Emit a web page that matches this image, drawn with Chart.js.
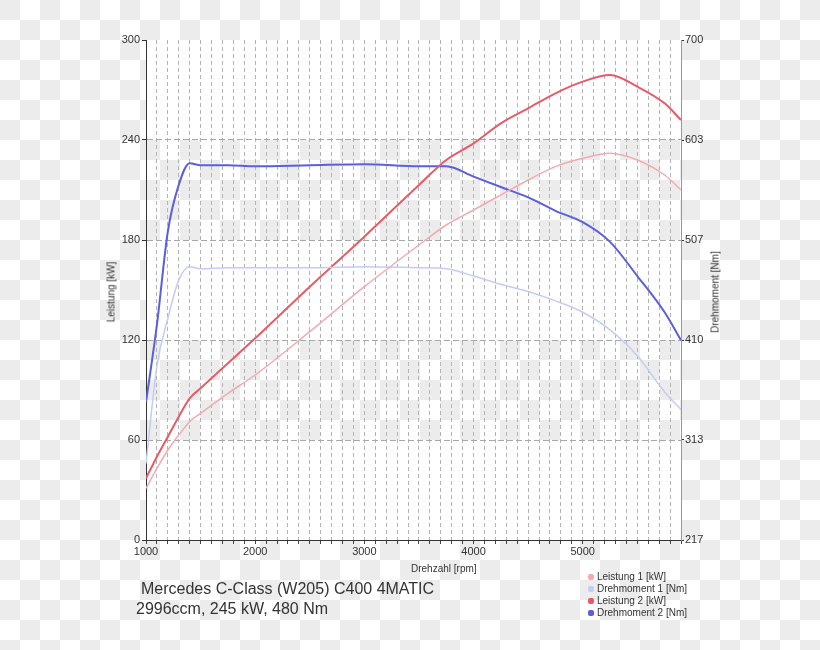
<!DOCTYPE html>
<html>
<head>
<meta charset="utf-8">
<script src="https://cdn.jsdelivr.net/npm/chart.js@4"></script>
<style>
  html, body { margin: 0; padding: 0; }
  body {
    width: 820px; height: 650px; overflow: hidden; position: relative;
    font-family: 'Liberation Sans', Arial, sans-serif; color: #333;
    background: repeating-conic-gradient(#fff 0 25%, #ececec 0 50%) 0 0 / 40px 40px;
  }
  #chart { position: absolute; left: 0; top: 0; }
  .lbl { position: absolute; white-space: nowrap; }
  .rot { transform: translate(-50%, -50%) rotate(-90deg); font-size: 10px; }
  #legend { position: absolute; left: 587px; top: 571px; font-size: 10px; }
  #legend div { height: 12px; line-height: 12px; position: relative; padding-left: 10px; }
  #legend span { position: absolute; left: 1px; top: 3px; width: 6px; height: 6px; border-radius: 2px; }
</style>
</head>
<body>
<canvas id="chart" width="820" height="650"></canvas>
<div class="lbl" style="left:141px; top:580px; font-size:16px; line-height:18px;">Mercedes C-Class (W205) C400 4MATIC</div>
<div class="lbl" style="left:136px; top:600px; font-size:16px; line-height:18px;">2996ccm, 245 kW, 480 Nm</div>
<div class="lbl" style="left:411px; top:563px; font-size:10px; line-height:12px;">Drehzahl [rpm]</div>
<div class="lbl rot" style="left:111px; top:292px;">Leistung [kW]</div>
<div class="lbl rot" style="left:715px; top:292px;">Drehmoment [Nm]</div>
<div id="legend"></div>

<script>
// rpm knots
const rpm = [1000, 1100, 1200, 1300, 1400, 1500, 1750, 2000, 2500, 3000, 3500, 3750, 4000, 4250, 4500, 4750, 5000, 5250, 5500, 5750, 5900]

// power in kW (left axis)
const leistung1 = [31, 43, 54, 63, 71, 76, 88, 99, 125, 152, 177, 189, 198, 207, 216, 224, 229, 232, 228, 219, 210]
const leistung2 = [37, 50, 62, 74, 85, 91, 106, 121, 152, 182, 213, 228, 238, 250, 259, 268, 275, 279, 272, 262, 252]

// torque in Nm (right axis)
const drehmoment1 = [291, 385, 431, 468, 481, 479, 480, 480, 480, 481, 480, 479, 472, 464, 457, 448, 437, 420, 395, 360, 343]
const drehmoment2 = [350, 425, 515, 560, 581, 579, 579, 578, 579, 580, 578, 578, 568, 558, 548, 535, 524, 505, 472, 437, 410]

const rightTickLabels = ['217', '313', '410', '507', '603', '700']

const toPoints = (values) => rpm.map((r, i) => ({ x: r, y: values[i] }))

const datasets = [
  { label: 'Leistung 1 [kW]', data: toPoints(leistung1), borderColor: '#f5aab1', borderWidth: 1.5, yAxisID: 'y' },
  { label: 'Drehmoment 1 [Nm]', data: toPoints(drehmoment1), borderColor: '#c4ccf6', borderWidth: 1.5, yAxisID: 'y1' },
  { label: 'Leistung 2 [kW]', data: toPoints(leistung2), borderColor: '#e85a66', borderWidth: 2, yAxisID: 'y' },
  { label: 'Drehmoment 2 [Nm]', data: toPoints(drehmoment2), borderColor: '#5a5fdf', borderWidth: 2, yAxisID: 'y1' }
]
datasets.forEach(d => {
  d.pointRadius = 0
  d.cubicInterpolationMode = 'monotone'
  d.fill = false
})

// white bands behind the plot (the rest stays see-through)
const bands = {
  id: 'bands',
  beforeDraw (chart) {
    const { ctx, chartArea, scales } = chart
    const y = scales.y
    ctx.save()
    ctx.fillStyle = '#ffffff'
    ;[[0, 60], [120, 180], [240, 300]].forEach(([a, b]) => {
      const top = y.getPixelForValue(b)
      const bottom = y.getPixelForValue(a)
      ctx.fillRect(chartArea.left, top, chartArea.right - chartArea.left, bottom - top)
    })
    ctx.restore()
  }
}

Chart.defaults.font.family = "'Liberation Sans', Arial, sans-serif"
Chart.defaults.font.size = 11
Chart.defaults.color = '#333'

new Chart(document.getElementById('chart'), {
  type: 'line',
  data: { datasets },
  plugins: [bands],
  options: {
    responsive: false,
    animation: false,
    layout: { padding: { top: 40, left: 0, right: 0, bottom: 0 } },
    plugins: { legend: { display: false }, tooltip: { enabled: false } },
    scales: {
      x: {
        type: 'linear',
        min: 1000,
        max: 5900,
        afterFit: (s) => { s.height = 110 },
        ticks: {
          stepSize: 100,
          autoSkip: false,
          maxTicksLimit: 100,
          maxRotation: 0,
          padding: 1,
          callback: (v) => (v % 1000 === 0 ? String(v) : '')
        },
        grid: { color: '#b4b4b4', tickColor: '#444', tickLength: 4 },
        border: { color: '#333', width: 1, dash: [4, 3] }
      },
      y: {
        position: 'left',
        min: 0,
        max: 300,
        afterFit: (s) => { s.width = 146 },
        ticks: { stepSize: 60, padding: 2 },
        grid: {
          color: (c) => (c.tick && (c.tick.value === 300 || c.tick.value === 0) ? 'rgba(0,0,0,0)' : '#a8a8a8'),
          tickColor: '#333',
          tickLength: 4
        },
        border: { color: '#333', width: 1, dash: [6, 3] }
      },
      y1: {
        position: 'right',
        min: 217,
        max: 700,
        afterFit: (s) => { s.width = 139 },
        afterBuildTicks: (s) => {
          const step = (s.max - s.min) / (rightTickLabels.length - 1)
          s.ticks = rightTickLabels.map((t, i) => ({ value: s.min + i * step }))
        },
        ticks: { padding: 1, callback: (v, i) => rightTickLabels[i] },
        grid: { drawOnChartArea: false, tickColor: '#333', tickLength: 3 },
        border: { color: '#999', width: 1 }
      }
    }
  }
})

// legend, stacked like the original
const legend = document.getElementById('legend')
datasets.forEach(d => {
  const row = document.createElement('div')
  const box = document.createElement('span')
  box.style.background = d.borderColor
  row.appendChild(box)
  row.appendChild(document.createTextNode(d.label))
  legend.appendChild(row)
})
</script>
</body>
</html>
